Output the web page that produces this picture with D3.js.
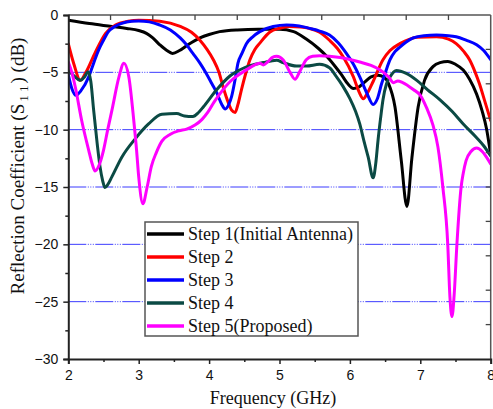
<!DOCTYPE html>
<html>
<head>
<meta charset="utf-8">
<script src="https://cdn.jsdelivr.net/npm/d3@7"></script>
<style>
  html, body { margin: 0; padding: 0; background: #fff; }
  svg { display: block; }
</style>
</head>
<body>
<svg id="chart" width="493" height="409"></svg>
<script>
// ---------------- DATA ----------------
const seriesNames = ["Step 1(Initial Antenna)", "Step 2", "Step 3", "Step 4", "Step 5(Proposed)"];
const seriesColors = ["#000000", "#ff0000", "#0000ff", "#0b4a44", "#ff00ff"];

const xTicks = [2, 3, 4, 5, 6, 7, 8];
const yTicks = [0, -5, -10, -15, -20, -25, -30];
const gridValues = [-5, -10, -15, -20, -25];

// [frequency GHz, S11 dB]
const step1 = [[2.0,-0.45],[2.3,-0.75],[2.62,-1.0],[2.83,-1.17],[3.0,-1.35],[3.11,-1.6],[3.2,-2.0],[3.3,-2.6],[3.4,-3.1],[3.48,-3.35],[3.58,-3.1],[3.7,-2.6],[3.87,-2.0],[4.0,-1.7],[4.15,-1.45],[4.4,-1.3],[4.7,-1.25],[5.0,-1.25],[5.2,-1.45],[5.38,-2.1],[5.55,-2.9],[5.67,-3.6],[5.78,-4.4],[5.88,-5.2],[5.97,-6.0],[6.05,-6.4],[6.12,-6.3],[6.2,-5.9],[6.3,-5.4],[6.4,-5.25],[6.48,-5.4],[6.55,-6.0],[6.64,-8.0],[6.73,-12.7],[6.81,-16.7],[6.88,-12.5],[6.97,-8.0],[7.06,-5.7],[7.18,-4.5],[7.28,-4.15],[7.39,-4.05],[7.5,-4.3],[7.61,-4.8],[7.7,-5.6],[7.8,-6.9],[7.88,-8.4],[7.94,-9.9],[8.0,-12.2]];

const step2 = [[2.0,-2.5],[2.08,-4.3],[2.17,-5.7],[2.25,-5.0],[2.38,-3.3],[2.53,-1.6],[2.67,-0.87],[2.85,-0.55],[3.0,-0.45],[3.3,-0.55],[3.59,-1.0],[3.75,-1.5],[3.87,-2.2],[3.97,-3.0],[4.06,-3.9],[4.14,-5.0],[4.2,-6.3],[4.27,-7.6],[4.32,-8.3],[4.37,-8.5],[4.41,-7.8],[4.46,-6.5],[4.52,-5.1],[4.58,-3.9],[4.65,-3.0],[4.72,-2.45],[4.86,-1.5],[5.0,-1.15],[5.14,-1.0],[5.3,-1.05],[5.42,-1.17],[5.57,-1.5],[5.71,-2.2],[5.82,-2.9],[5.9,-3.6],[6.05,-5.4],[6.13,-6.7],[6.19,-7.3],[6.25,-6.8],[6.33,-5.8],[6.47,-3.9],[6.57,-3.1],[6.71,-2.5],[6.85,-2.1],[6.95,-1.95],[7.23,-1.9],[7.4,-2.1],[7.51,-2.5],[7.62,-3.2],[7.7,-3.9],[7.78,-5.0],[7.84,-6.0],[7.92,-7.6],[8.0,-9.2]];

const step3 = [[2.0,-5.2],[2.05,-6.4],[2.11,-7.0],[2.18,-6.6],[2.29,-5.4],[2.36,-4.2],[2.43,-3.06],[2.5,-2.2],[2.57,-1.45],[2.66,-1.0],[2.76,-0.73],[2.9,-0.55],[3.0,-0.52],[3.15,-0.6],[3.3,-0.87],[3.45,-1.3],[3.59,-2.0],[3.68,-2.6],[3.77,-3.35],[3.87,-4.2],[3.96,-5.1],[4.04,-6.0],[4.11,-6.8],[4.18,-7.8],[4.23,-8.2],[4.28,-7.8],[4.32,-7.1],[4.37,-5.6],[4.41,-4.2],[4.47,-3.3],[4.53,-2.5],[4.62,-1.9],[4.72,-1.45],[4.91,-1.0],[5.1,-0.87],[5.28,-0.95],[5.43,-1.17],[5.57,-1.4],[5.71,-1.75],[5.83,-2.4],[5.95,-3.35],[6.05,-4.3],[6.14,-5.4],[6.24,-6.8],[6.33,-7.8],[6.39,-7.3],[6.45,-6.0],[6.51,-4.9],[6.57,-3.9],[6.64,-3.2],[6.71,-2.8],[6.8,-2.35],[6.9,-2.0],[7.05,-1.8],[7.23,-1.75],[7.4,-1.8],[7.51,-1.9],[7.65,-2.2],[7.8,-2.6],[7.9,-3.1],[8.0,-3.9]];

const step4 = [[2.0,-4.8],[2.08,-5.3],[2.17,-5.7],[2.23,-5.4],[2.28,-4.95],[2.32,-5.8],[2.36,-8.3],[2.41,-11.2],[2.45,-13.2],[2.49,-14.5],[2.52,-15.05],[2.56,-14.8],[2.62,-14.1],[2.76,-12.4],[2.95,-10.8],[3.14,-9.5],[3.33,-8.65],[3.54,-8.6],[3.65,-8.8],[3.77,-8.85],[3.85,-8.5],[3.92,-8.0],[4.11,-6.5],[4.3,-5.3],[4.5,-4.6],[4.77,-4.15],[4.96,-3.95],[5.05,-4.15],[5.24,-4.45],[5.38,-4.45],[5.57,-4.3],[5.71,-4.6],[5.8,-5.3],[5.9,-6.2],[6.0,-7.3],[6.08,-8.4],[6.14,-9.5],[6.2,-11.0],[6.26,-12.4],[6.33,-14.2],[6.37,-12.8],[6.4,-10.9],[6.44,-8.8],[6.47,-7.4],[6.52,-6.0],[6.57,-5.4],[6.66,-4.85],[6.8,-5.1],[6.95,-5.7],[7.1,-6.5],[7.28,-7.4],[7.45,-8.4],[7.61,-9.5],[7.8,-10.7],[7.9,-11.4],[8.0,-12.3]];

const step5 = [[2.0,-4.1],[2.05,-5.0],[2.1,-6.3],[2.19,-9.2],[2.29,-11.8],[2.34,-13.0],[2.38,-13.6],[2.43,-13.2],[2.5,-11.8],[2.56,-10.0],[2.62,-8.3],[2.72,-5.4],[2.79,-4.2],[2.86,-5.4],[2.93,-9.2],[2.97,-11.8],[3.0,-14.1],[3.06,-16.45],[3.12,-15.0],[3.18,-13.2],[3.25,-12.0],[3.33,-11.0],[3.45,-10.4],[3.57,-10.1],[3.68,-9.95],[3.8,-9.6],[3.9,-9.1],[3.98,-8.5],[4.07,-7.6],[4.15,-6.9],[4.3,-5.8],[4.45,-5.1],[4.55,-4.7],[4.65,-4.35],[4.72,-4.2],[4.77,-4.35],[4.83,-4.1],[4.9,-3.7],[4.96,-3.6],[5.05,-3.9],[5.15,-5.0],[5.22,-5.6],[5.29,-4.9],[5.38,-3.9],[5.47,-3.6],[5.57,-3.55],[5.86,-3.7],[6.14,-4.1],[6.3,-4.4],[6.43,-4.8],[6.55,-5.4],[6.62,-5.9],[6.68,-5.75],[6.75,-5.9],[6.9,-6.5],[7.0,-7.0],[7.09,-8.1],[7.18,-9.6],[7.25,-11.5],[7.32,-15.0],[7.39,-20.0],[7.42,-24.5],[7.45,-26.3],[7.48,-24.5],[7.52,-20.0],[7.58,-15.0],[7.61,-13.8],[7.65,-12.7],[7.72,-11.9],[7.8,-11.6],[7.88,-11.9],[7.94,-12.4],[8.0,-13.0]];

const allSeries = [step1, step2, step3, step4, step5];

// ---------------- LAYOUT ----------------
const svg = d3.select("#chart");
const L = 68.3, R = 490.7, T = 15, B = 359;

const x = d3.scaleLinear().domain([2, 8]).range([L, R]);
const y = d3.scaleLinear().domain([0, -30]).range([T, B]);

const serif = "'Liberation Serif', 'Times New Roman', serif";
const sans = "'Liberation Sans', Arial, sans-serif";

svg.append("defs").append("clipPath").attr("id", "plotclip")
  .append("rect").attr("x", L).attr("y", T).attr("width", R - L).attr("height", B - T);

// grid lines
svg.append("g").selectAll("line").data(gridValues).join("line")
  .attr("x1", L).attr("x2", R)
  .attr("y1", d => y(d)).attr("y2", d => y(d))
  .attr("stroke", "#3b3bff").attr("stroke-width", 1)
  .attr("stroke-dasharray", "18,1.5,1,1.5,1,1.5,1,1.5");

// curves
const line = d3.line().x(d => x(d[0])).y(d => y(d[1])).curve(d3.curveMonotoneX);
const gCurves = svg.append("g").attr("clip-path", "url(#plotclip)");
allSeries.forEach((s, i) => {
  gCurves.append("path").datum(s)
    .attr("d", line)
    .attr("fill", "none")
    .attr("stroke", seriesColors[i])
    .attr("stroke-width", 3)
    .attr("stroke-linejoin", "round")
    .attr("stroke-linecap", "round");
});

// frame (top & right)
svg.append("line").attr("x1", L).attr("x2", R).attr("y1", T).attr("y2", T)
  .attr("stroke", "#555").attr("stroke-width", 1.5);
svg.append("line").attr("x1", R).attr("x2", R).attr("y1", T).attr("y2", B)
  .attr("stroke", "#555").attr("stroke-width", 1.5);

// top inner ticks (10 divisions)
const topScale = d3.scaleLinear().domain([0, 10]).range([L, R]);
svg.append("g").selectAll("line").data(d3.range(1, 10)).join("line")
  .attr("x1", d => topScale(d)).attr("x2", d => topScale(d))
  .attr("y1", T).attr("y2", T + 5)
  .attr("stroke", "#444").attr("stroke-width", 1.3);
// right inner ticks (10 divisions)
const rightScale = d3.scaleLinear().domain([0, 10]).range([T, B]);
svg.append("g").selectAll("line").data(d3.range(1, 10)).join("line")
  .attr("y1", d => rightScale(d)).attr("y2", d => rightScale(d))
  .attr("x1", R).attr("x2", R - 5)
  .attr("stroke", "#444").attr("stroke-width", 1.3);

// bottom axis
const xAxis = d3.axisBottom(x).tickValues(xTicks).tickSize(5).tickPadding(6).tickFormat(d3.format("d"));
const gx = svg.append("g").attr("transform", `translate(0,${B})`).call(xAxis);
gx.select(".domain").attr("stroke", "#222").attr("stroke-width", 2);
gx.selectAll(".tick line").attr("stroke", "#222").attr("stroke-width", 1.5);
gx.selectAll(".tick text").attr("font-family", sans).attr("font-size", 14).attr("fill", "#111");
const xMinor = d3.axisBottom(x).tickValues([2.5, 3.5, 4.5, 5.5, 6.5, 7.5]).tickSize(3).tickFormat("");
const gxm = svg.append("g").attr("transform", `translate(0,${B})`).call(xMinor);
gxm.select(".domain").remove();
gxm.selectAll(".tick line").attr("stroke", "#222").attr("stroke-width", 1.5);

// left axis
const yAxis = d3.axisLeft(y).tickValues(yTicks).tickSize(5).tickPadding(5).tickFormat(d3.format("d"));
const gy = svg.append("g").attr("transform", `translate(${L},0)`).call(yAxis);
gy.select(".domain").attr("stroke", "#222").attr("stroke-width", 2);
gy.selectAll(".tick line").attr("stroke", "#222").attr("stroke-width", 1.5);
gy.selectAll(".tick text").attr("font-family", sans).attr("font-size", 14).attr("fill", "#111");
const yMinor = d3.axisLeft(y).tickValues([-2.5, -7.5, -12.5, -17.5, -22.5, -27.5]).tickSize(3).tickFormat("");
const gym = svg.append("g").attr("transform", `translate(${L},0)`).call(yMinor);
gym.select(".domain").remove();
gym.selectAll(".tick line").attr("stroke", "#222").attr("stroke-width", 1.5);

// axis titles
svg.append("text").attr("x", 273).attr("y", 404)
  .attr("text-anchor", "middle").attr("font-family", serif).attr("font-size", 18).attr("fill", "#111")
  .text("Frequency (GHz)");

const yl = svg.append("text")
  .attr("transform", "translate(24,166) rotate(-90)")
  .attr("text-anchor", "middle").attr("font-family", serif).attr("font-size", 19).attr("fill", "#111");
yl.append("tspan").text("Reflection Coefficient (S");
yl.append("tspan").attr("font-size", 13).attr("dy", 4).attr("dx", 2).text("1 1");
yl.append("tspan").attr("dy", -4).attr("dx", 2).text(")  (dB)");

// legend
const lg = svg.append("g");
lg.append("rect").attr("x", 145).attr("y", 222).attr("width", 213).attr("height", 114)
  .attr("fill", "#fff").attr("stroke", "#555").attr("stroke-width", 1.5);
const legY = d3.scalePoint().domain(seriesNames).range([234, 326]);
seriesNames.forEach((n, i) => {
  lg.append("line").attr("x1", 147).attr("x2", 184)
    .attr("y1", legY(n)).attr("y2", legY(n))
    .attr("stroke", seriesColors[i]).attr("stroke-width", 3.5);
  lg.append("text").attr("x", 188).attr("y", legY(n)).attr("dy", "0.33em")
    .attr("font-family", serif).attr("font-size", 18).attr("fill", "#111")
    .text(n);
});
</script>
</body>
</html>
